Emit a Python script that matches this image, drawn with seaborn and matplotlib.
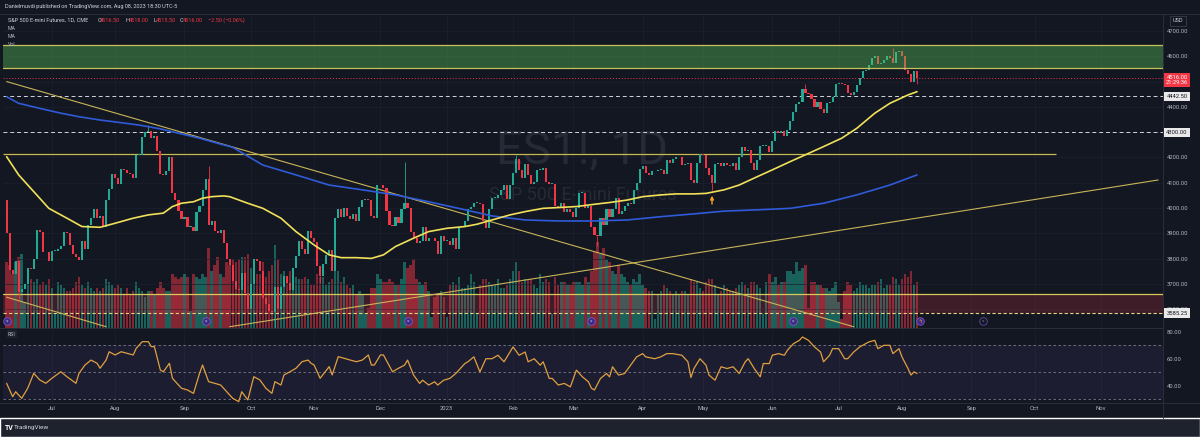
import numpy as np
import pandas as pd
import matplotlib.pyplot as plt
import matplotlib.transforms as mtransforms
from matplotlib.colors import to_rgba
from matplotlib.lines import Line2D
from matplotlib.patches import Rectangle
import seaborn as sns

sns.set_theme(style="dark")
plt.rcParams["font.family"] = ["Roboto", "DejaVu Sans"]

# ES1! daily closes, Jun 10 2022 -> Aug 8 2023 (one value per business day)
first_open = 4030
closes = [
    # Jun 2022
    3900, 3755, 3740, 3790, 3670, 3680, 3700, 3765, 3760, 3800, 3915, 3905, 3825, 3825, 3790,
    # Jul
    3830, 3830, 3840, 3850, 3905, 3900, 3855, 3820, 3805, 3795, 3870, 3840, 3935, 3960, 3995,
    3960, 3970, 3925, 4030, 4075, 4135,
    # Aug
    4120, 4095, 4155, 4150, 4140, 4135, 4120, 4210, 4210, 4280, 4300, 4305, 4275, 4285, 4225,
    4135, 4130, 4145, 4200, 4060, 4030, 3990, 3955,
    # Sep
    3965, 3925, 3925, 3910, 3985, 4010, 4070, 4115, 3935, 3950, 3910, 3900, 3915, 3860, 3800,
    3775, 3710, 3680, 3675, 3745, 3665, 3600,
    # Oct
    3700, 3800, 3790, 3750, 3645, 3620, 3595, 3590, 3690, 3600, 3690, 3730, 3705, 3675, 3765,
    3810, 3870, 3840, 3820, 3910, 3880,
    # Nov
    3865, 3770, 3730, 3780, 3815, 3835, 3750, 3960, 3995, 3965, 4000, 3970, 3955, 3975, 3950,
    4005, 4030, 4035, 4030, 3970, 3960, 4090,
    # Dec
    4090, 4080, 3990, 3935, 3930, 3965, 3940, 3995, 4020, 4000, 3905, 3880, 3860, 3870, 3925,
    3870, 3880, 3880, 3870, 3820, 3890, 3870,
    # Jan 2023
    3870, 3855, 3880, 3840, 3925, 3925, 3950, 3995, 4005, 4020, 4020, 4015, 3950, 3920, 3995,
    4040, 4040, 4050, 4070, 4090, 4035, 4090,
    # Feb
    4140, 4195, 4150, 4120, 4175, 4130, 4095, 4105, 4150, 4150, 4160, 4105, 4095, 4095, 4010,
    4005, 4020, 3985, 3995, 3985,
    # Mar
    3965, 4000, 4060, 4060, 4000, 4010, 3925, 3895, 3890, 3960, 3935, 3995, 3965, 3995, 4040,
    3975, 3990, 4010, 4020, 4015, 4070, 4100, 4155,
    # Apr
    4165, 4140, 4130, 4145, 4145, 4150, 4150, 4135, 4190, 4180, 4195, 4200, 4200, 4170, 4175,
    4180, 4110, 4100, 4180, 4215,
    # May
    4210, 4160, 4130, 4100, 4175, 4180, 4165, 4180, 4170, 4165, 4180, 4150, 4200, 4240, 4225,
    4230, 4180, 4150, 4190, 4245, 4245, 4245, 4220,
    # Jun
    4265, 4305, 4295, 4305, 4285, 4310, 4345, 4380, 4410, 4420, 4470, 4455, 4450, 4430, 4400,
    4420, 4390, 4375, 4415, 4420, 4440, 4490,
    # Jul
    4495, 4490, 4485, 4455, 4445, 4460, 4485, 4515, 4540, 4545, 4565, 4595, 4600, 4570, 4575,
    4585, 4600, 4595, 4575, 4615, 4620,
    # Aug
    4600, 4545, 4530, 4500, 4540, 4516,
]

# volume, thousands of contracts
volumes = [
    2300, 2200, 1900, 2300, 2500, 2600, 900, 1800, 1700, 1600, 1700, 1500, 1600, 1500, 1700,
    1400, 500, 1600, 1500, 1400, 1300, 1300, 1400, 1600, 1800, 1500, 1400, 1600, 1400, 1300,
    1400, 1300, 1400, 1700, 1600, 1500,
    1400, 1500, 1400, 1200, 1400, 1200, 1300, 1600, 1400, 1300, 1100, 1300, 1300, 1200, 1400,
    1600, 1400, 1300, 1300, 1900, 1800, 1700, 1800,
    1900, 1800, 600, 1900, 1800, 1700, 1900, 1800, 2800, 2000, 2200, 2500, 1900, 1800, 2300,
    2200, 2400, 2300, 2400, 2500, 2500, 2600,
    2100, 2200, 1900, 1900, 2300, 1800, 2000, 2200, 2900, 2400, 1900, 2000, 1800, 2000, 2100,
    1800, 1700, 1700, 1800, 1700, 1500,
    1500, 1900, 1800, 1800, 1500, 1600, 1700, 2600, 2000, 1600, 1800, 1500, 1400, 1500, 1200,
    1300, 1200, 500, 700, 1400, 1400, 1900,
    1700, 1600, 1600, 1700, 1600, 1500, 1500, 1700, 2300, 2100, 2200, 2400, 1700, 1600, 1500,
    1600, 1300, 400, 1100, 1200, 1300, 1100,
    400, 1500, 1600, 1500, 1800, 1400, 1400, 1500, 1900, 1600, 500, 1500, 1700, 1700, 1600,
    1500, 1500, 1700, 1400, 1400, 1500, 1700,
    2000, 2300, 2000, 1600, 1700, 1700, 1700, 1500, 1400, 1900, 1600, 1700, 1600, 500, 1800,
    1500, 1600, 1600, 1500, 1500,
    1600, 1600, 1600, 1500, 1800, 1600, 2000, 2700, 3000, 2600, 2800, 2400, 2300, 2000, 1900,
    2200, 1900, 1800, 1600, 1500, 1700, 1600, 1900,
    1500, 1400, 1300, 1300, 300, 1200, 1300, 1500, 1400, 1300, 1200, 1300, 1200, 1300, 1300,
    1200, 1700, 1600, 1600, 1400,
    1300, 1600, 1700, 1700, 1500, 1200, 1300, 1500, 1400, 1300, 1300, 1400, 1500, 1600, 1500,
    1400, 1600, 1600, 1500, 1400, 500, 1600, 1900,
    1600, 1800, 1500, 1600, 1600, 2000, 2000, 1900, 2300, 2000, 2100, 2200, 700, 1600, 1600,
    1500, 1500, 1400, 1400, 1300, 1400, 1600,
    900, 300, 1300, 1600, 1500, 1300, 1400, 1600, 1500, 1500, 1400, 1500, 1500, 1600, 1700,
    1400, 1500, 1500, 1800, 1700, 1500,
    1700, 1900, 1800, 2000, 1500, 1600,
]

# a few visible wicks
wick_high = {"2022-08-16": 4327, "2022-09-13": 4165, "2022-12-13": 4182,
             "2023-02-02": 4210, "2023-06-16": 4490, "2023-07-27": 4634}
wick_low = {"2022-06-16": 3640, "2022-10-13": 3502, "2022-11-03": 3705,
            "2023-03-13": 3850, "2023-05-04": 4070, "2023-08-08": 4490}

# moving averages (bar number, price)
ma_fast_bar = [0, 4, 9, 14, 20, 25, 31, 36, 42, 47, 52, 55, 58, 62, 65, 68, 72, 74, 80, 85, 91,
               96, 102, 107, 111, 116, 121, 125, 129, 135, 140, 146, 152, 156, 161, 167, 172,
               178, 183, 189, 195, 200, 206, 211, 217, 222, 228, 232, 238, 243, 249, 254, 260,
               266, 271, 277, 282, 288, 293, 299, 302]
ma_fast = [4203, 4131, 4065, 3999, 3960, 3927, 3924, 3940, 3960, 3973, 3980, 4006, 4019, 4025,
           4039, 4045, 4048, 4045, 4019, 3999, 3960, 3907, 3854, 3815, 3804, 3804, 3801, 3815,
           3848, 3881, 3907, 3920, 3927, 3936, 3953, 3973, 3986, 3999, 4002, 4006, 4015, 4022,
           4032, 4045, 4052, 4056, 4056, 4058, 4072, 4091, 4124, 4151, 4184, 4216, 4243, 4276,
           4315, 4375, 4414, 4447, 4460]
ma_slow_bar = [0, 4, 11, 18, 24, 31, 37, 44, 51, 57, 64, 70, 75, 85, 96, 107, 118, 129, 140,
               151, 161, 172, 183, 195, 206, 217, 228, 238, 249, 260, 271, 282, 293, 302]
ma_slow = [4440, 4414, 4394, 4375, 4361, 4348, 4339, 4328, 4313, 4296, 4276, 4256, 4240, 4170,
           4131, 4091, 4072, 4052, 4025, 3996, 3969, 3953, 3949, 3949, 3953, 3966, 3977, 3988,
           3993, 3999, 4019, 4052, 4091, 4131]

# RSI (bar number, value)
rsi_bar = [0, 2, 3, 5, 7, 9, 11, 13, 15, 18, 20, 23, 24, 26, 28, 30, 31, 33, 34, 36, 38, 40, 42,
           43, 45, 47, 48, 49, 51, 52, 54, 55, 58, 60, 62, 64, 65, 67, 69, 71, 73, 75, 77, 78,
           80, 82, 84, 86, 88, 89, 91, 92, 94, 96, 98, 100, 101, 102, 104, 107, 108, 110, 112,
           114, 116, 118, 120, 121, 122, 124, 125, 128, 130, 132, 133, 135, 137, 138, 140, 142,
           143, 145, 147, 149, 150, 152, 153, 155, 157, 159, 161, 163, 165, 167, 168, 170, 172,
           173, 175, 177, 178, 180, 181, 183, 185, 187, 189, 191, 193, 194, 195, 197, 199, 200,
           201, 203, 205, 207, 209, 211, 212, 215, 217, 219, 221, 224, 226, 227, 228, 230, 232,
           233, 235, 237, 239, 241, 243, 245, 246, 248, 250, 251, 253, 254, 256, 258, 259, 261,
           263, 264, 266, 268, 270, 271, 273, 274, 276, 278, 279, 281, 283, 284, 286, 288, 289,
           291, 293, 294, 296, 297, 299, 300, 301, 302]
rsi = [41.7, 31.7, 35.4, 30.5, 38.0, 49.1, 44.2, 41.7, 45.4, 50.3, 46.6, 41.7, 49.1, 55.3, 59.0,
       56.6, 52.9, 59.0, 65.2, 62.8, 65.2, 64.0, 62.8, 67.8, 72.7, 72.7, 69.0, 69.0, 51.6, 50.3,
       56.6, 45.4, 38.0, 36.7, 34.2, 49.1, 55.3, 42.9, 41.7, 40.4, 35.4, 30.5, 28.0, 35.4, 29.3,
       46.6, 44.2, 38.0, 34.2, 42.9, 40.4, 47.9, 50.3, 52.9, 57.8, 59.0, 56.6, 55.3, 45.4, 54.1,
       47.9, 61.5, 60.3, 59.0, 57.8, 59.0, 62.8, 55.3, 55.3, 62.8, 62.8, 50.3, 52.9, 55.2, 59.0,
       47.8, 41.6, 44.0, 40.4, 42.8, 40.4, 44.0, 45.3, 49.0, 51.5, 56.4, 57.7, 61.4, 50.2, 60.0,
       60.0, 62.6, 57.7, 65.0, 68.8, 62.6, 65.0, 57.7, 60.0, 55.2, 57.7, 45.3, 45.3, 40.4, 41.6,
       39.0, 51.5, 46.5, 42.8, 38.0, 36.7, 45.3, 49.0, 46.5, 54.0, 47.8, 49.0, 55.2, 61.4, 63.8,
       61.4, 60.0, 61.4, 63.8, 63.8, 62.6, 57.7, 46.0, 52.7, 60.0, 55.2, 47.8, 44.0, 54.0, 52.7,
       54.0, 49.0, 57.7, 60.0, 52.7, 46.5, 56.4, 56.4, 62.6, 63.8, 62.6, 66.3, 71.2, 73.7, 76.2,
       73.7, 68.8, 65.0, 57.7, 62.6, 67.5, 67.5, 60.0, 60.0, 65.0, 68.8, 70.0, 72.5, 73.7, 67.5,
       70.0, 70.0, 63.8, 67.5, 61.4, 52.7, 47.8, 50.2, 49.0]

# drawn levels and trendlines
supply_zone = (4553, 4645)
level_line = 4213
level_line_end = "2023-10-11"
dashed_levels = [4442.5, 4300]
last_price = 4516
volume_zone = (3585.25, 3659)
trend_down = (["2022-06-10", "2023-07-10"], [4500, 3531])
trend_down_low = (["2022-06-10", "2022-07-27"], [3648, 3531])
trend_up = (["2022-09-22", "2023-11-28"], [3531, 4111])
signal_date = "2023-05-04"
event_dates = ["2022-06-10", "2022-09-12", "2022-12-14", "2023-03-09", "2023-06-12"]
month_labels = ["Jul", "Aug", "Sep", "Oct", "Nov", "Dec", "2023", "Feb", "Mar", "Apr", "May",
                "Jun", "Jul", "Aug", "Sep", "Oct", "Nov"]

BG = "#131722"
UP = "#22ab94"
DOWN = "#f23645"
TXT = "#b2b5be"
GRID = "#1c2030"

dates = pd.bdate_range(end="2023-08-08", periods=len(closes))
all_dates = pd.bdate_range(dates[0], periods=len(closes) + 100)


def pos(d):
    return all_dates.get_loc(pd.Timestamp(d))


month_pos = [all_dates.searchsorted(m) for m in pd.date_range("2022-07-01", "2023-11-01", freq="MS")]

W, H = 1200, 437
fig = plt.figure(figsize=(W / 100, H / 100), dpi=100, facecolor=BG)

ax_vol = fig.add_axes([3 / W, 1 - 328 / H, 1160 / W, 314 / H], facecolor=BG)
ax = ax_vol.twinx()
ax_rsi = fig.add_axes([3 / W, 1 - 403 / H, 1160 / W, 75 / H], facecolor=BG, sharex=ax_vol)

for a in (ax_vol, ax, ax_rsi):
    for s in a.spines.values():
        s.set_visible(False)

ax_vol.set_xlim(-1.2, 383.6)

# grid
for a in (ax_vol, ax_rsi):
    a.set_xticks(month_pos)
    a.grid(axis="x", color=GRID, lw=0.5)
ax.grid(axis="y", color=GRID, lw=0.5, zorder=0)
ax.set_axisbelow(True)

# volume
x = np.arange(len(closes))
c = np.array(closes, dtype=float)
o = np.r_[first_open, c[:-1]]
up = c >= o
ax_vol.bar(x, volumes, width=0.8, linewidth=0,
           color=[to_rgba(UP if u else DOWN, 0.5) for u in up])
ax_vol.set_ylim(0, 11000)
ax_vol.set_yticks([])
ax_vol.tick_params(axis="x", labelbottom=False, length=0)

# price pane
ax.set_ylim(3526, 4767)
lo = np.minimum(o, c)
hi = np.maximum(o, c)
col = np.where(up, UP, DOWN)
ax.bar(x, np.maximum(hi - lo, 3), bottom=lo, width=0.7, color=col, linewidth=0, zorder=4)
for d, v in wick_high.items():
    i = pos(d)
    ax.vlines(i, hi[i], v, color=col[i], lw=0.6, zorder=4)
for d, v in wick_low.items():
    i = pos(d)
    ax.vlines(i, v, lo[i], color=col[i], lw=0.6, zorder=4)

ax.axhspan(*supply_zone, fc="#5cc85c", alpha=0.38, lw=0, zorder=5)
for v in supply_zone:
    ax.axhline(v, color="#c9c25a", lw=0.9, zorder=6)
ax.hlines(level_line, -1.2, pos(level_line_end), color="#c8b850", lw=0.9, zorder=3)
for v in dashed_levels:
    ax.axhline(v, color="#d1d4dc", lw=0.7, ls=(0, (4, 3)), zorder=3)
ax.axhline(last_price, color=DOWN, lw=0.7, ls=(0, (1, 2)), zorder=3)
ax.axhspan(*volume_zone, fc=DOWN, alpha=0.2, lw=0, zorder=3)
ax.axhline(volume_zone[1], color="#d8c95a", lw=0.9, zorder=3)
ax.axhline(volume_zone[0], color="#e0d480", lw=0.8, ls=(0, (3, 2)), zorder=3)

for d, p in (trend_down, trend_down_low, trend_up):
    ax.plot([pos(d[0]), pos(d[1])], p, color="#c9b458", lw=0.8, zorder=3)

sns.lineplot(x=ma_slow_bar, y=ma_slow, ax=ax, color="#2f5bd8", lw=1.2, zorder=6)
sns.lineplot(x=ma_fast_bar, y=ma_fast, ax=ax, color="#f1e05a", lw=1.2, zorder=6)

si = pos(signal_date)
ax.annotate("", xy=(si, lo[si] - 40), xytext=(si, lo[si] - 95),
            arrowprops=dict(arrowstyle="-|>", color="#f7a21b", lw=1.0, mutation_scale=5), zorder=7)

ev_tr = mtransforms.blended_transform_factory(ax.transData, ax.transAxes)
for d in event_dates:
    ax.scatter(pos(d), 0.022, s=30, fc="#3d2b85", ec="#7e57c2", lw=0.6, transform=ev_tr,
               zorder=8, clip_on=False)
    ax.text(pos(d), 0.022, "»", color="#d1d4dc", fontsize=3.8, ha="center", va="center",
            transform=ev_tr, zorder=9)
ax.scatter(pos("2023-08-09"), 0.022, s=30, fc="#3d2b85", ec="#7e57c2", lw=0.6, transform=ev_tr, zorder=8)
ax.text(pos("2023-08-09"), 0.022, "ϟ", color="#f7a21b", fontsize=4, ha="center", va="center",
        transform=ev_tr, zorder=9)
ax.scatter(pos("2023-09-07"), 0.022, s=30, fc=BG, ec="#5d4aa8", lw=0.6, transform=ev_tr, zorder=8)
ax.text(pos("2023-09-07"), 0.022, "»", color="#787b86", fontsize=3.8, ha="center", va="center",
        transform=ev_tr, zorder=9)

# watermark
ax.text(582 / W, 1 - 150 / H, "ES1!, 1D", transform=fig.transFigure, fontsize=34,
        color="#262a36", ha="center", va="center", zorder=0.6)
ax.text(583 / W, 1 - 195 / H, "S&P 500 E-mini Futures", transform=fig.transFigure, fontsize=13,
        color="#262a36", ha="center", va="center", zorder=0.6)

ticks = list(range(3600, 4701, 100))
ax.set_yticks(ticks)
# 4300 and 4500 sit under the price tags on the axis
ax.set_yticklabels(["" if t in (4300, 4500) else f"{t:.2f}" for t in ticks])
ax.tick_params(axis="y", length=0, pad=2.9, labelsize=4.2, labelcolor=TXT)
ax.tick_params(axis="x", labelbottom=False, length=0)

tag_tr = mtransforms.blended_transform_factory(ax.transAxes, ax.transData)


def tag(y, s, fc, tc):
    ax.text(1.0121, y, s, transform=tag_tr, ha="center", va="center", fontsize=4.2, color=tc,
            linespacing=1.1, bbox=dict(boxstyle="square,pad=0.35", fc=fc, ec="none"),
            clip_on=False, zorder=20)


tag(4506, "4516.00\n21:29:36", DOWN, "white")
tag(4442.5, "4442.50", "#e9e9ea", "#131722")
tag(4300, "4300.00", "#e9e9ea", "#131722")
tag(3585.25, "3585.25", "#e9e9ea", "#131722")

# RSI pane
ax_rsi.set_ylim(27.0, 82.9)
ax_rsi.axhspan(30, 70, fc="#7e57c2", alpha=0.1, lw=0)
for v in (70, 50, 30):
    ax_rsi.axhline(v, color="#787b86", lw=0.6, ls=(0, (3, 3)))
sns.lineplot(x=rsi_bar, y=rsi, ax=ax_rsi, color="#e0a040", lw=0.9)
ax_rsi.yaxis.tick_right()
ax_rsi.set_yticks([40, 60, 80])
ax_rsi.set_yticklabels(["40.00", "60.00", "80.00"])
ax_rsi.tick_params(axis="y", length=0, pad=2.9, labelsize=4.2, labelcolor=TXT)
ax_rsi.set_xticklabels(month_labels)
ax_rsi.tick_params(axis="x", length=0, pad=2.5, labelsize=4.2, labelcolor=TXT)
ax_rsi.set_xlabel("")
ax_rsi.set_ylabel("")
ax.set_ylabel("")

# frame, header, legend and footer
fig.patches.append(Rectangle((0, 0), 1, 19 / H, transform=fig.transFigure, fc="#1e222d", zorder=0))
for xs, ys in (([0, 1], [1 - 13.5 / H] * 2), ([0, 1163 / W], [1 - 328 / H] * 2),
               ([1163 / W] * 2, [1 - 13.5 / H, 19 / H]), ([0, 1], [1 - 403 / H] * 2)):
    fig.add_artist(Line2D(xs, ys, color="#2a2e39", lw=0.7))

fig.text(5 / W, 1 - 6.5 / H, "Danielmuvdi published on TradingView.com, Aug 08, 2023 18:30 UTC-5",
         color="#d1d4dc", fontsize=4.0, va="center")
fig.text(8 / W, 1 - 20 / H, "S&P 500 E-mini Futures, 1D, CME", color="#d1d4dc", fontsize=4.0, va="center")
for px, s, cc in ((97.5, "O", "#d1d4dc"), (100, "4516.50", DOWN), (126, "H", "#d1d4dc"),
                  (128.5, "4518.00", DOWN), (154, "L", "#d1d4dc"), (156, "4515.50", DOWN),
                  (180, "C", "#d1d4dc"), (183, "4516.00", DOWN), (208, "−2.50 (−0.06%)", DOWN)):
    fig.text(px / W, 1 - 20 / H, s, color=cc, fontsize=4.0, va="center")
for py, s in ((28, "MA"), (36, "MA"), (44, "Vol")):
    fig.text(8 / W, 1 - py / H, s, color=TXT, fontsize=3.8, va="center")
fig.text(8 / W, 1 - 334 / H, "RSI", color=TXT, fontsize=3.8, va="center",
         bbox=dict(boxstyle="square,pad=0.25", fc="#1e222d", ec="none"))
fig.text(1178 / W, 1 - 21 / H, "USD", color="#d1d4dc", fontsize=4.0, ha="center", va="center",
         bbox=dict(boxstyle="square,pad=0.4", fc=BG, ec="#434651", lw=0.5))
fig.text(5 / W, 1 - 428 / H, "TV", color="white", fontsize=5, weight="bold", va="center")
fig.text(14 / W, 1 - 428 / H, "TradingView", color="#d1d4dc", fontsize=4.6, va="center")

fig.savefig("out.png", dpi=100, facecolor=BG)
